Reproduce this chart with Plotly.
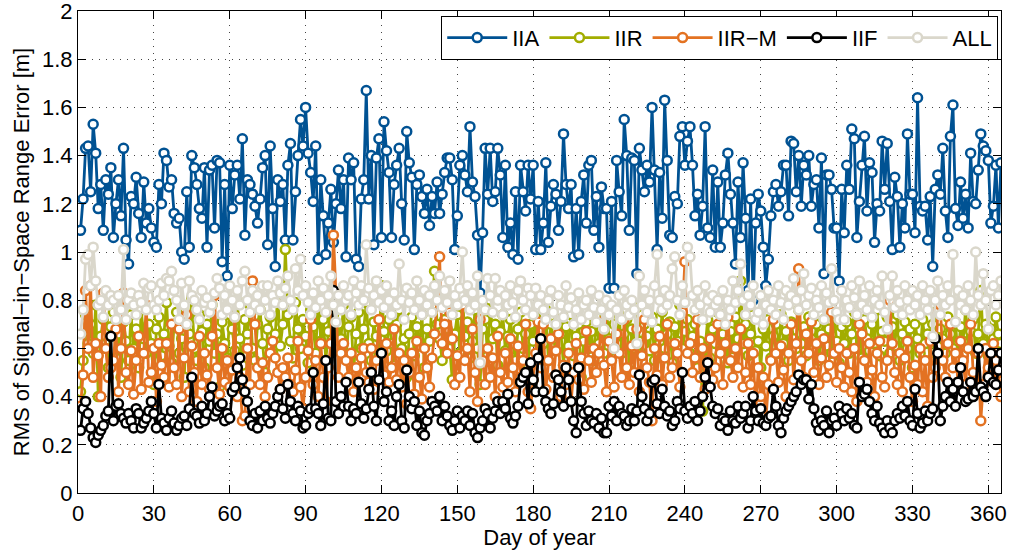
import plotly.graph_objects as go

# Day-of-year RMS SISRE values [m] (10 values per line)
iia = [
    1.09, 1.22, 1.43, 1.44, 1.25, 1.53, 1.41, 1.18, 1.28, 1.09,
    1.30, 1.24, 1.35, 1.06, 1.20, 1.30, 1.15, 1.43, 1.05, 0.95,
    1.23, 1.20, 1.31, 1.16, 1.06, 1.29, 1.12, 1.18, 1.10, 1.04,
    1.02, 1.28, 1.20, 1.41, 1.38, 1.27, 1.30, 1.16, 1.12, 1.14,
    1.00, 0.97, 1.25, 1.02, 1.40, 1.35, 1.28, 1.18, 1.14, 1.35,
    1.02, 1.34, 1.36, 1.10, 1.38, 1.37, 0.96, 1.28, 0.90, 1.36,
    1.18, 1.32, 1.36, 1.22, 1.47, 1.07, 1.30, 1.28, 1.24, 1.19,
    1.12, 1.22, 1.35, 1.40, 1.03, 1.44, 1.18, 0.94, 1.30, 1.21,
    1.28, 1.05, 1.36, 1.45, 1.05, 1.25, 1.40, 1.55, 1.44, 1.60,
    1.41, 1.33, 1.21, 1.44, 0.97, 1.30, 1.15, 0.99, 1.12, 1.26,
    1.04, 1.20, 1.34, 1.18, 1.30, 0.98, 1.39, 1.30, 1.37, 0.97,
    0.94, 1.22, 1.30, 1.67, 1.22, 1.40, 1.03, 1.39, 1.47, 1.06,
    1.54, 1.42, 1.33, 1.06, 1.28, 1.36, 1.43, 1.20, 1.05, 1.50,
    1.37, 1.31, 1.01, 1.28, 1.32, 1.23, 1.16, 1.26, 1.11, 1.23,
    1.16, 1.29, 1.16, 1.24, 1.33, 1.39, 1.39, 1.30, 1.01, 1.15,
    1.36, 1.40, 1.32, 1.25, 1.52, 1.29, 1.23, 1.07, 0.83, 1.08,
    1.43, 1.24, 1.43, 1.21, 1.25, 1.43, 1.32, 1.06, 1.36, 1.02,
    1.12, 0.99, 1.25, 0.97, 1.36, 1.25, 1.17, 1.36, 1.22, 1.36,
    1.01, 1.21, 1.01, 1.12, 1.37, 1.04, 1.19, 1.28, 1.24, 1.09,
    1.21, 1.49, 1.28, 1.18, 1.28, 0.98, 1.18, 0.99, 1.21, 1.32,
    1.12, 1.36, 1.38, 1.09, 1.23, 1.02, 1.27, 1.18, 1.18, 0.85,
    1.21, 0.85, 1.38, 1.25, 1.15, 1.55, 1.40, 1.09, 1.39, 1.38,
    0.91, 1.43, 1.34, 1.25, 1.36, 1.29, 1.60, 1.34, 1.01, 1.33,
    1.14, 1.63, 1.38, 1.07, 1.06, 1.23, 1.20, 1.48, 1.52, 1.36,
    1.46, 1.52, 1.36, 1.15, 1.24, 1.07, 1.19, 1.52, 1.10, 1.06,
    1.34, 1.02, 1.29, 1.02, 1.12, 1.32, 1.41, 1.24, 1.12, 0.95,
    1.29, 1.06, 1.37, 1.14, 0.84, 1.22, 0.80, 1.12, 1.24, 1.17,
    1.02, 0.86, 0.97, 1.15, 1.25, 1.28, 1.19, 1.25, 1.36, 1.36,
    1.15, 1.46, 1.45, 1.25, 1.40, 1.19, 1.36, 1.32, 1.40, 1.19,
    1.28, 1.30, 1.10, 1.39, 0.91, 1.32, 1.32, 1.26, 1.10, 1.10,
    0.88, 1.26, 1.08, 1.36, 1.26, 1.51, 1.47, 1.06, 1.21, 1.36,
    1.48, 1.17, 1.37, 1.33, 1.04, 1.20, 1.17, 1.46, 1.26, 1.45,
    1.21, 1.01, 1.31, 1.23, 1.02, 1.20, 1.10, 1.49, 1.24, 1.24,
    1.08, 1.64, 1.19, 1.17, 1.19, 1.05, 1.23, 0.94, 1.26, 1.32,
    1.24, 1.43, 1.17, 1.06, 1.48, 1.61, 1.18, 1.11, 1.29, 1.14,
    1.24, 1.10, 1.41, 1.21, 1.20, 1.34, 1.49, 1.44, 1.42, 1.38,
    1.12, 1.19, 1.36, 1.10, 1.37,
]

iir = [
    0.42, 0.55, 0.74, 0.62, 0.70, 0.58, 0.78, 0.40, 0.65, 0.72,
    0.60, 0.52, 0.69, 0.75, 0.56, 0.66, 0.48, 0.71, 0.63, 0.55,
    0.74, 0.60, 0.68, 0.52, 0.76, 0.64, 0.58, 0.70, 0.62, 0.45,
    0.68, 0.73, 0.57, 0.66, 0.79, 0.61, 0.54, 0.70, 0.75, 0.58,
    0.64, 0.48, 0.72, 0.66, 0.81, 0.60, 0.55, 0.74, 0.67, 0.52,
    0.70, 0.63, 0.78, 0.58, 0.66, 0.44, 0.71, 0.62, 0.56, 0.74,
    0.68, 0.59, 0.80, 0.64, 0.53, 0.72, 0.66, 0.78, 0.60, 0.55,
    0.70, 0.76, 0.62, 0.50, 0.68, 0.73, 0.58, 0.66, 0.82, 0.61,
    0.70, 1.01, 0.74, 0.63, 0.56, 0.79, 0.68, 0.60, 0.72, 0.65,
    0.54, 0.76, 0.69, 0.58, 0.81, 0.63, 0.72, 0.55, 0.67, 0.84,
    0.74, 0.60, 0.70, 0.64, 0.78, 0.56, 0.69, 0.73, 0.50, 0.66,
    0.75, 0.60, 0.68, 0.79, 0.62, 0.55, 0.71, 0.65, 0.58, 0.86,
    0.67, 0.59, 0.72, 0.62, 0.53, 0.70, 0.76, 0.60, 0.64, 0.48,
    0.66, 0.73, 0.57, 0.69, 0.61, 0.74, 0.52, 0.68, 0.63, 0.78,
    0.92, 0.70, 0.64, 0.55, 0.72, 0.68, 0.60, 0.47, 0.66, 0.74,
    0.58, 0.82, 0.65, 0.71, 0.56, 0.63, 0.76, 0.60, 0.45, 0.68,
    0.72, 0.57, 0.80, 0.64, 0.70, 0.53, 0.67, 0.74, 0.59, 0.65,
    0.72, 0.62, 0.55, 0.68, 0.75, 0.60, 0.66, 0.52, 0.70, 0.63,
    0.73, 0.58, 0.67, 0.62, 0.76, 0.55, 0.70, 0.64, 0.59, 0.72,
    0.66, 0.53, 0.69, 0.61, 0.74, 0.57, 0.65, 0.70, 0.48, 0.63,
    0.71, 0.60, 0.67, 0.55, 0.73, 0.62, 0.68, 0.58, 0.76, 0.64,
    0.56, 0.70, 0.62, 0.74, 0.58, 0.66, 0.72, 0.51, 0.68, 0.60,
    0.77, 0.63, 0.57, 0.70, 0.65, 0.59, 0.73, 0.55, 0.68, 0.62,
    0.75, 0.60, 0.66, 0.71, 0.54, 0.69, 0.63, 0.78, 0.60, 0.67,
    0.72, 0.58, 0.65, 0.70, 0.52, 0.63, 0.34, 0.60, 0.72, 0.56,
    0.68, 0.62, 0.75, 0.58, 0.66, 0.71, 0.54, 0.67, 0.60, 0.73,
    0.64, 0.88, 0.62, 0.70, 0.57, 0.66, 0.74, 0.59, 0.63, 0.52,
    0.68, 0.61, 0.72, 0.56, 0.65, 0.70, 0.58, 0.74, 0.62, 0.67,
    0.55, 0.71, 0.64, 0.60, 0.76, 0.62, 0.69, 0.57, 0.73, 0.64,
    0.60, 0.70, 0.55, 0.66, 0.72, 0.61, 0.68, 0.58, 0.74, 0.63,
    0.54, 0.69, 0.62, 0.71, 0.58, 0.66, 0.75, 0.60, 0.68, 0.56,
    0.72, 0.64, 0.59, 0.70, 0.62, 0.76, 0.57, 0.67, 0.63, 0.73,
    0.58, 0.69, 0.61, 0.74, 0.55, 0.66, 0.71, 0.60, 0.68, 0.52,
    0.70, 0.64, 0.58, 0.72, 0.62, 0.66, 0.55, 0.70, 0.75, 0.61,
    0.68, 0.64, 0.58, 0.73, 0.66, 0.60, 0.71, 0.56, 0.69, 0.63,
    0.76, 0.60, 0.67, 0.72, 0.58, 0.66, 0.84, 0.62, 0.70, 0.57,
    0.68, 0.64, 0.73, 0.66, 0.62,
]

iirm = [
    0.36, 0.49, 0.84, 0.60, 0.86, 0.48, 0.62, 0.57, 0.40, 0.83,
    0.60, 0.48, 0.52, 0.55, 0.68, 0.42, 0.60, 0.83, 0.50, 0.45,
    0.59, 0.41, 0.55, 0.65, 0.43, 0.58, 0.78, 0.46, 0.50, 0.60,
    0.38, 0.62, 0.53, 0.48, 0.62, 0.44, 0.70, 0.52, 0.45, 0.68,
    0.40, 0.56, 0.74, 0.42, 0.61, 0.50, 0.38, 0.65, 0.45, 0.58,
    0.49, 0.43, 0.65, 0.82, 0.52, 0.41, 0.60, 0.46, 0.55, 0.44,
    0.51, 0.73, 0.40, 0.48, 0.30, 0.32, 0.60, 0.45, 0.88, 0.70,
    0.52, 0.45, 0.54, 0.40, 0.48, 0.58, 0.63, 0.56, 0.50, 0.43,
    0.52, 0.48, 0.56, 0.45, 0.42, 0.51, 0.63, 0.44, 0.35, 0.48,
    0.59, 0.72, 0.45, 0.55, 0.40, 0.62, 0.48, 0.38, 0.52, 0.62,
    1.07, 0.83, 0.48, 0.58, 0.62, 0.55, 0.48, 0.58, 0.42, 0.52,
    0.46, 0.56, 0.60, 0.50, 0.46, 0.60, 0.43, 0.55, 0.72, 0.58,
    0.49, 0.62, 0.46, 0.52, 0.68, 0.47, 0.58, 0.44, 0.55, 0.37,
    0.50, 0.58, 0.41, 0.63, 0.48, 0.39, 0.60, 0.52, 0.44, 0.56,
    0.66, 0.80, 0.98, 0.62, 0.70, 0.58, 0.75, 0.64, 0.45, 0.57,
    0.48, 0.78, 0.55, 0.60, 0.42, 0.68, 0.50, 0.38, 0.72, 0.55,
    0.45, 0.60, 0.48, 0.56, 0.40, 0.65, 0.50, 0.44, 0.58, 0.46,
    0.64, 0.52, 0.42, 0.61, 0.48, 0.55, 0.70, 0.42, 0.35, 0.47,
    0.58, 0.71, 0.52, 0.70, 0.43, 0.55, 0.64, 0.48, 0.59, 0.66,
    0.40, 0.53, 0.45, 0.58, 0.38, 0.50, 0.62, 0.47, 0.56, 0.43,
    0.67, 0.55, 0.46, 0.60, 0.50, 0.58, 0.71, 0.53, 0.42, 0.63,
    0.55, 0.44, 0.66, 0.58, 0.48, 0.72, 0.52, 0.45, 0.61, 0.50,
    0.68, 0.42, 0.57, 0.72, 0.52, 0.46, 0.30, 0.60, 0.49, 0.65,
    0.45, 0.56, 0.70, 0.48, 0.52, 0.62, 0.58, 0.44, 0.75, 0.96,
    0.58, 0.62, 0.50, 0.56, 0.72, 0.48, 0.60, 0.43, 0.55, 0.64,
    0.47, 0.52, 0.70, 0.58, 0.45, 0.62, 0.73, 0.55, 0.48, 0.60,
    0.52, 0.68, 0.44, 0.50, 0.62, 0.45, 0.58, 0.33, 0.52, 0.40,
    0.48, 0.30, 0.45, 0.55, 0.72, 0.58, 0.46, 0.61, 0.51, 0.40,
    0.58, 0.70, 0.47, 0.62, 0.93, 0.55, 0.48, 0.66, 0.58, 0.71,
    0.50, 0.62, 0.45, 0.56, 0.64, 0.48, 0.53, 0.75, 0.58, 0.46,
    0.60, 0.52, 0.44, 0.58, 0.50, 0.42, 0.60, 0.38, 0.70, 0.66,
    0.55, 0.46, 0.62, 0.51, 0.40, 0.58, 0.63, 0.48, 0.44, 0.55,
    0.80, 0.62, 0.50, 0.45, 0.58, 0.42, 0.56, 0.63, 0.48, 0.38,
    0.53, 0.45, 0.60, 0.42, 0.55, 0.36, 0.63, 0.48, 0.52, 0.75,
    0.78, 0.55, 0.48, 0.62, 0.70, 0.52, 0.58, 0.46, 0.63, 0.55,
    0.45, 0.60, 0.70, 0.50, 0.42, 0.58, 0.30, 0.45, 0.60, 0.52,
    0.48, 0.62, 0.55, 0.50, 0.40,
]

iif = [
    0.26, 0.35, 0.38, 0.33, 0.27, 0.23, 0.21, 0.24, 0.26, 0.28,
    0.32, 0.34, 0.65, 0.30, 0.36, 0.37, 0.33, 0.31, 0.29, 0.33,
    0.30, 0.27, 0.35, 0.33, 0.27, 0.29, 0.31, 0.34, 0.38, 0.33,
    0.27, 0.45, 0.31, 0.29, 0.26, 0.31, 0.34, 0.29, 0.26, 0.28,
    0.31, 0.32, 0.28, 0.35, 0.48, 0.33, 0.32, 0.29, 0.36, 0.30,
    0.33, 0.40, 0.44, 0.32, 0.34, 0.36, 0.37, 0.30, 0.33, 0.31,
    0.42, 0.44, 0.52, 0.56, 0.47, 0.42, 0.38, 0.30, 0.28, 0.33,
    0.27, 0.34, 0.30, 0.36, 0.31, 0.29, 0.33, 0.36, 0.40, 0.43,
    0.35, 0.31, 0.45, 0.38, 0.33, 0.30, 0.36, 0.34, 0.27, 0.28,
    0.33, 0.35, 0.50, 0.35, 0.33, 0.28, 0.37, 0.55, 0.31, 0.30,
    0.84, 0.38, 0.33, 0.40, 0.36, 0.46, 0.36, 0.30, 0.35, 0.33,
    0.46, 0.37, 0.31, 0.35, 0.43, 0.50, 0.36, 0.30, 0.47, 0.58,
    0.38, 0.42, 0.30, 0.34, 0.28, 0.40, 0.45, 0.30, 0.27, 0.51,
    0.40, 0.35, 0.38, 0.28, 0.34, 0.25, 0.24, 0.30, 0.33, 0.38,
    0.36, 0.34, 0.40, 0.30, 0.36, 0.32, 0.28, 0.26, 0.30, 0.34,
    0.27, 0.32, 0.30, 0.34, 0.28, 0.33, 0.25, 0.23, 0.27, 0.30,
    0.35, 0.33, 0.27, 0.31, 0.34, 0.38, 0.33, 0.38, 0.35, 0.41,
    0.31, 0.29, 0.32, 0.36, 0.46, 0.48, 0.50, 0.37, 0.54, 0.47,
    0.42, 0.56, 0.64, 0.42, 0.38, 0.35, 0.33, 0.37, 0.49, 0.47,
    0.42, 0.36, 0.52, 0.47, 0.38, 0.30, 0.25, 0.52, 0.38, 0.33,
    0.28, 0.34, 0.30, 0.29, 0.33, 0.27, 0.31, 0.25, 0.25, 0.36,
    0.32, 0.38, 0.30, 0.36, 0.33, 0.32, 0.28, 0.30, 0.35, 0.30,
    0.34, 0.49, 0.40, 0.35, 0.30, 0.33, 0.46, 0.47, 0.37, 0.33,
    0.43, 0.36, 0.32, 0.34, 0.28, 0.30, 0.38, 0.35, 0.50, 0.34,
    0.31, 0.36, 0.33, 0.38, 0.30, 0.34, 0.40, 0.48, 0.54, 0.44,
    0.36, 0.33, 0.35, 0.28, 0.31, 0.30, 0.26, 0.34, 0.30, 0.29,
    0.36, 0.31, 0.33, 0.36, 0.27, 0.30, 0.40, 0.34, 0.30, 0.35,
    0.29, 0.28, 0.31, 0.32, 0.43, 0.36, 0.28, 0.25, 0.31, 0.34,
    0.36, 0.38, 0.40, 0.42, 0.49, 0.45, 0.47, 0.47, 0.39, 0.45,
    0.35, 0.29, 0.26, 0.30, 0.28, 0.34, 0.25, 0.30, 0.31, 0.28,
    0.36, 0.33, 0.30, 0.35, 0.31, 0.33, 0.28, 0.27, 0.46, 0.40,
    0.41, 0.43, 0.38, 0.33, 0.30, 0.36, 0.29, 0.27, 0.25, 0.30,
    0.27, 0.25, 0.30, 0.33, 0.31, 0.36, 0.32, 0.38, 0.30, 0.28,
    0.43, 0.33, 0.27, 0.29, 0.34, 0.30, 0.33, 0.35, 0.64, 0.58,
    0.30, 0.36, 0.40, 0.46, 0.38, 0.43, 0.36, 0.46, 0.52, 0.42,
    0.38, 0.39, 0.46, 0.40, 0.42, 0.60, 0.44, 0.42, 0.40, 0.48,
    0.58, 0.46, 0.45, 0.51, 0.58,
]

all_sv = [
    0.66, 0.76, 0.97, 0.99, 0.86, 1.02, 0.88, 0.78, 0.80, 0.73,
    0.84, 0.78, 0.82, 0.80, 0.72, 0.82, 0.76, 1.01, 0.72, 0.80,
    0.83, 0.78, 0.74, 0.82, 0.79, 0.87, 0.76, 0.85, 0.86, 0.78,
    0.76, 0.80, 0.87, 0.82, 0.89, 0.88, 0.92, 0.84, 0.80, 0.72,
    0.87, 0.78, 0.70, 0.88, 0.82, 0.80, 0.76, 0.72, 0.84, 0.79,
    0.81, 0.75, 0.78, 0.83, 0.89, 0.85, 0.74, 0.82, 0.76, 0.86,
    0.80, 0.73, 0.84, 0.78, 0.88, 0.92, 0.80, 0.75, 0.84, 0.78,
    0.82, 0.76, 0.86, 0.80, 0.86, 0.74, 0.82, 0.79, 0.88, 0.83,
    0.78, 0.85, 0.90, 0.80, 0.76, 0.93, 0.84, 0.97, 0.82, 0.86,
    0.79, 0.74, 0.83, 0.77, 0.88, 0.80, 0.85, 0.75, 0.82, 0.90,
    0.78, 0.71, 0.82, 0.76, 0.86, 0.80, 0.82, 0.74, 0.88, 0.83,
    0.78, 0.86, 0.80, 1.03, 0.85, 0.76, 0.82, 0.88, 0.79, 0.84,
    0.77, 0.86, 0.80, 0.74, 0.83, 0.78, 0.95, 0.80, 0.72, 0.85,
    0.79, 0.83, 0.76, 0.88, 0.80, 0.74, 0.84, 0.78, 0.82, 0.75,
    0.86, 0.80, 0.90, 0.77, 0.84, 0.79, 0.88, 0.74, 0.82, 0.78,
    0.85, 1.00, 0.80, 0.86, 0.76, 0.83, 0.78, 0.90, 0.54, 0.80,
    0.76, 0.89, 0.82, 0.75, 0.89, 0.80, 0.84, 0.74, 0.82, 0.78,
    0.86, 0.79, 0.73, 0.84, 0.88, 0.80, 0.76, 0.85, 0.82, 0.74,
    0.85, 0.78, 0.82, 0.76, 0.72, 0.80, 0.84, 0.75, 0.70, 0.82,
    0.78, 0.73, 0.86, 0.77, 0.81, 0.70, 0.76, 0.83, 0.72, 0.78,
    0.80, 0.74, 0.84, 0.77, 0.71, 0.82, 0.76, 0.68, 0.80, 0.74,
    0.78, 0.60, 0.76, 0.82, 0.72, 0.84, 0.78, 0.74, 0.80, 0.76,
    0.62, 0.90, 0.78, 0.84, 0.75, 0.80, 0.71, 0.86, 0.99, 0.80,
    0.76, 0.84, 0.78, 0.82, 0.93, 0.98, 0.80, 0.74, 0.86, 0.79,
    1.02, 0.98, 0.82, 0.76, 0.84, 0.78, 0.72, 0.86, 0.80, 0.75,
    0.82, 0.78, 0.80, 0.74, 0.84, 0.70, 0.80, 0.76, 0.88, 0.79,
    0.84, 0.95, 0.80, 0.74, 0.82, 0.78, 0.86, 0.72, 0.75, 0.82,
    0.70, 0.78, 0.84, 0.76, 0.80, 0.74, 0.86, 0.79, 0.72, 0.84,
    0.78, 0.82, 0.89, 0.80, 0.76, 0.84, 0.91, 0.78, 0.82, 0.85,
    0.74, 0.80, 0.77, 0.86, 0.72, 0.83, 0.79, 0.93, 0.80, 0.75,
    0.72, 0.84, 0.72, 0.80, 0.77, 0.86, 0.81, 0.74, 0.88, 0.78,
    0.82, 0.76, 0.86, 0.73, 0.80, 0.84, 0.78, 0.90, 0.75, 0.68,
    0.82, 0.90, 0.77, 0.84, 0.79, 0.74, 0.86, 0.80, 0.76, 0.84,
    0.78, 0.82, 0.74, 0.86, 0.80, 0.76, 0.84, 0.65, 0.80, 0.88,
    0.74, 0.82, 0.78, 0.86, 0.80, 0.99, 0.71, 0.84, 0.78, 0.82,
    0.76, 0.86, 0.80, 0.74, 1.00, 0.82, 0.78, 0.91, 0.80, 0.68,
    0.84, 0.86, 0.78, 0.82, 0.88,
]

series_names = ["IIA", "IIR", "IIR\u2212M", "IIF", "ALL"]
series_values = [iia, iir, iirm, iif, all_sv]
series_colors = ["#005293", "#A2AD00", "#E37222", "#000000", "#DAD7CB"]
x_ticks = list(range(0, 361, 30))
y_ticks = [0, 0.2, 0.4, 0.6, 0.8, 1, 1.2, 1.4, 1.6, 1.8, 2]
y_tick_text = ["0", "0.2", "0.4", "0.6", "0.8", "1", "1.2", "1.4", "1.6", "1.8", "2"]

FONT = "Liberation Sans, Arial, Helvetica, sans-serif"
FS = 22

fig = go.Figure()
for name, vals, col in zip(series_names, series_values, series_colors):
    days = list(range(1, len(vals) + 1))
    fig.add_trace(go.Scatter(
        x=days, y=vals, name=name, mode="lines+markers",
        line=dict(color=col, width=2.8),
        marker=dict(symbol="circle", size=9, color="white",
                    line=dict(color=col, width=2.5)),
    ))

axis_common = dict(
    showline=True, linecolor="black", linewidth=1.2, mirror="allticks",
    ticks="inside", ticklen=8, tickcolor="black", tickwidth=1,
    showgrid=True, gridcolor="#444444", gridwidth=1, griddash="1px,6px",
    zeroline=False, automargin=False, ticklabeloverflow="allow",
    tickfont=dict(family=FONT, size=FS, color="black"),
)

fig.update_layout(
    width=1009, height=557,
    margin=dict(l=78, r=8, t=11, b=64),
    paper_bgcolor="white", plot_bgcolor="white",
    font=dict(family=FONT, size=FS, color="black"),
    xaxis=dict(range=[0, 365], tickvals=x_ticks,
               title=dict(text="Day of year", font=dict(family=FONT, size=FS), standoff=2),
               **axis_common),
    yaxis=dict(range=[0, 2], tickvals=y_ticks, ticktext=y_tick_text,
               title=dict(text="RMS of Signal\u2212in\u2212Space Range Error [m]",
                          font=dict(family=FONT, size=22), standoff=6),
               **axis_common),
    legend=dict(orientation="h", x=0.997, xanchor="right", y=0.99, yanchor="top",
                bgcolor="white", bordercolor="black", borderwidth=1,
                font=dict(family=FONT, size=FS, color="black"),
                itemwidth=60, tracegroupgap=0),
    showlegend=True,
)

fig.write_html("out.html")
